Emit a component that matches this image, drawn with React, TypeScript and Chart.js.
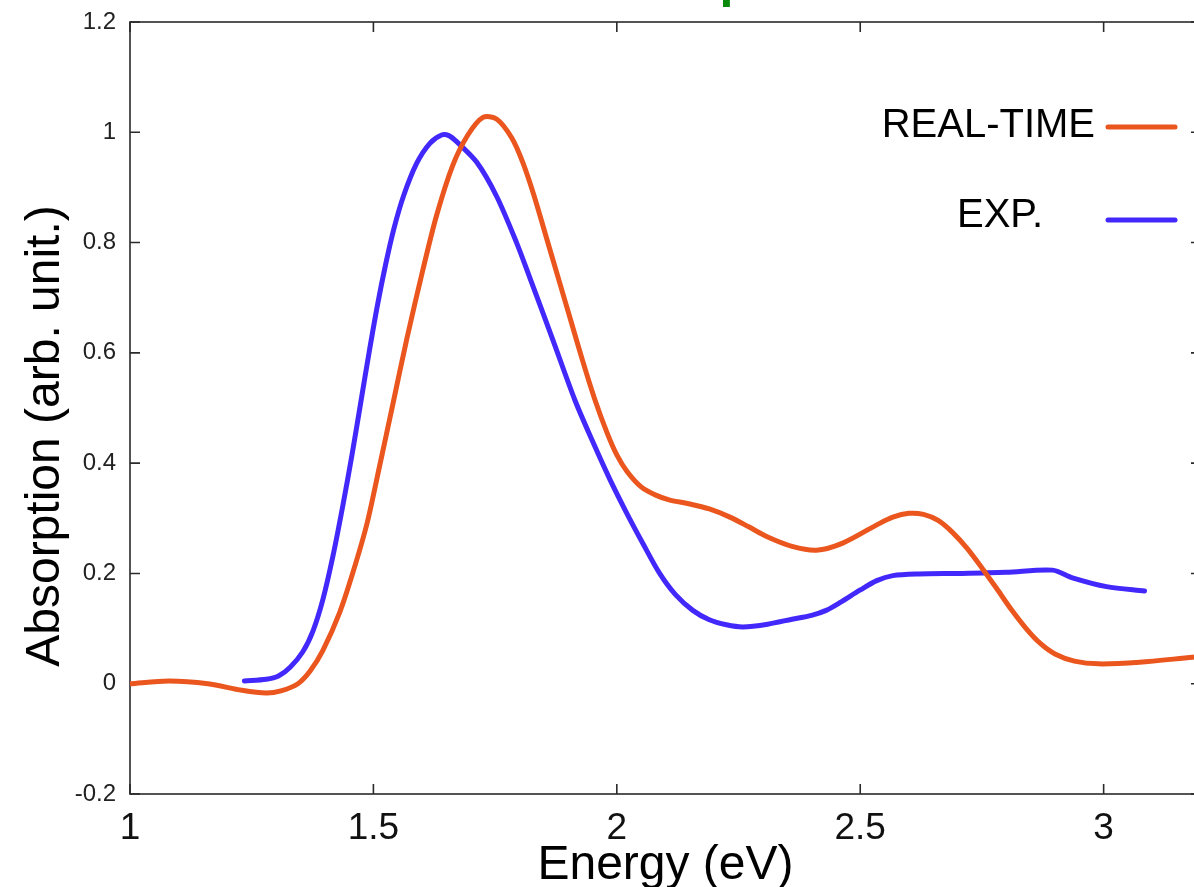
import React, { useEffect, useRef } from "react";
import { Chart, registerables } from "chart.js";

Chart.register(...registerables);

// ---- data ----
const realTimeEnergy = [1.0, 1.08, 1.16, 1.23, 1.28, 1.31, 1.345, 1.37, 1.396, 1.431, 1.458, 1.487, 1.513, 1.54, 1.569, 1.602, 1.63, 1.663, 1.694, 1.725, 1.753, 1.784, 1.807, 1.83, 1.855, 1.88, 1.905, 1.93, 1.955, 1.98, 2.0, 2.021, 2.05, 2.08, 2.109, 2.15, 2.19, 2.23, 2.27, 2.31, 2.36, 2.41, 2.464, 2.534, 2.567, 2.6, 2.63, 2.66, 2.69, 2.72, 2.75, 2.78, 2.81, 2.84, 2.87, 2.9, 2.94, 2.99, 3.074, 3.183, 3.2];
const realTimeAbs = [0.0, 0.005, 0.0, -0.012, -0.017, -0.013, 0.0, 0.023, 0.06, 0.13, 0.202, 0.291, 0.396, 0.507, 0.627, 0.752, 0.85, 0.94, 0.995, 1.027, 1.024, 0.99, 0.945, 0.885, 0.81, 0.735, 0.66, 0.585, 0.515, 0.455, 0.415, 0.385, 0.357, 0.342, 0.333, 0.326, 0.317, 0.303, 0.285, 0.266, 0.249, 0.242, 0.255, 0.288, 0.302, 0.309, 0.307, 0.296, 0.274, 0.245, 0.21, 0.173, 0.135, 0.101, 0.073, 0.054, 0.041, 0.036, 0.039, 0.048, 0.049];

const expEnergy = [1.235, 1.28, 1.305, 1.329, 1.355, 1.376, 1.396, 1.417, 1.437, 1.456, 1.474, 1.491, 1.508, 1.525, 1.542, 1.562, 1.589, 1.616, 1.64, 1.655, 1.671, 1.712, 1.753, 1.794, 1.821, 1.868, 1.914, 1.95, 1.985, 2.02, 2.055, 2.088, 2.12, 2.156, 2.19, 2.225, 2.259, 2.31, 2.36, 2.4, 2.43, 2.46, 2.5, 2.534, 2.567, 2.62, 2.704, 2.8, 2.895, 2.936, 3.006, 3.084];
const expAbs = [0.005, 0.008, 0.014, 0.03, 0.058, 0.096, 0.152, 0.232, 0.322, 0.415, 0.51, 0.6, 0.685, 0.76, 0.825, 0.885, 0.944, 0.98, 0.995, 0.994, 0.983, 0.946, 0.884, 0.8, 0.737, 0.625, 0.514, 0.44, 0.372, 0.31, 0.252, 0.2, 0.162, 0.133, 0.116, 0.107, 0.103, 0.108, 0.117, 0.124, 0.133, 0.148, 0.17, 0.187, 0.196, 0.199, 0.2, 0.202, 0.206, 0.192, 0.176, 0.168];

const seriesLabels = ["REAL-TIME", "EXP."];
const seriesColors = ["#EA561E", "#4228FA"];

const xTicks = [1, 1.5, 2, 2.5, 3];
const xTickLabels = ["1", "1.5", "2", "2.5", "3"];
const yTicks = [-0.2, 0, 0.2, 0.4, 0.6, 0.8, 1, 1.2];
const yTickLabels = ["-0.2", "0", "0.2", "0.4", "0.6", "0.8", "1", "1.2"];
const xRange = [1, 3.2];
const yRange = [-0.2, 1.2];

const xTitle = "Energy (eV)";
const yTitle = "Absorption (arb. unit.)";
const topTitleFragment = "p";

// ---- layout ----
const W = 1215;
const H = 900;
const FONT = "'Liberation Sans', Arial, Helvetica, sans-serif";
const AREA = { left: 130, right: 1201, top: 22, bottom: 794 };

function labelFor(values: number[], labels: string[], v: number) {
  const i = values.findIndex((t) => Math.abs(t - v) < 1e-9);
  return i >= 0 ? labels[i] : "";
}

const framePlugin = {
  id: "gnuFrame",
  beforeDatasetsDraw(chart: any) {
    const { ctx, chartArea } = chart;
    const { left, right, top, bottom } = chartArea;
    const xs = chart.scales.x;
    const ys = chart.scales.y;
    ctx.save();
    ctx.strokeStyle = "#2a2a2a";
    ctx.lineWidth = 1.6;
    ctx.strokeRect(left, top, right - left, bottom - top);
    ctx.beginPath();
    const tl = 10;
    xTicks.forEach((v) => {
      const px = xs.getPixelForValue(v);
      ctx.moveTo(px, bottom);
      ctx.lineTo(px, bottom - tl);
      ctx.moveTo(px, top);
      ctx.lineTo(px, top + tl);
    });
    yTicks.forEach((v) => {
      const py = ys.getPixelForValue(v);
      ctx.moveTo(left, py);
      ctx.lineTo(left + tl, py);
      ctx.moveTo(right, py);
      ctx.lineTo(right - tl, py);
    });
    ctx.stroke();
    ctx.restore();
  },
  afterDraw(chart: any) {
    const { ctx } = chart;
    ctx.save();
    // y-axis title
    ctx.translate(59, 436);
    ctx.rotate(-Math.PI / 2);
    ctx.fillStyle = "#000";
    ctx.font = `48px ${FONT}`;
    ctx.textAlign = "center";
    ctx.textBaseline = "alphabetic";
    ctx.fillText(yTitle, 0, 0);
    ctx.restore();

    // legend (text right-aligned, sample line to its right)
    const textRight = [1095, 1043];
    const baselines = [137, 227];
    const lineY = [127, 220];
    ctx.save();
    ctx.font = `40px ${FONT}`;
    ctx.textAlign = "right";
    ctx.textBaseline = "alphabetic";
    chart.data.datasets.forEach((ds: any, i: number) => {
      ctx.fillStyle = "#000";
      ctx.fillText(ds.label, textRight[i], baselines[i]);
      ctx.strokeStyle = ds.borderColor;
      ctx.lineWidth = 5;
      ctx.lineCap = "round";
      ctx.beginPath();
      ctx.moveTo(1108, lineY[i]);
      ctx.lineTo(1175, lineY[i]);
      ctx.stroke();
    });
    ctx.restore();

    // cut-off title fragment at very top
    ctx.save();
    ctx.fillStyle = "#0a8a0a";
    ctx.font = `bold 50px ${FONT}`;
    ctx.textAlign = "left";
    ctx.textBaseline = "alphabetic";
    ctx.fillText(topTitleFragment, 719.5, -3.5);
    ctx.restore();
  },
};

export default function App() {
  const canvasRef = useRef<HTMLCanvasElement | null>(null);

  useEffect(() => {
    document.body.style.margin = "0";
    const canvas = canvasRef.current;
    if (!canvas) return;
    const chart = new Chart(canvas, {
      type: "line",
      data: {
        datasets: [
          {
            label: seriesLabels[0],
            data: realTimeEnergy.map((x, i) => ({ x, y: realTimeAbs[i] })),
            borderColor: seriesColors[0],
            backgroundColor: seriesColors[0],
            borderWidth: 5,
            pointRadius: 0,
            pointHoverRadius: 0,
            tension: 0.3,
            fill: false,
          },
          {
            label: seriesLabels[1],
            data: expEnergy.map((x, i) => ({ x, y: expAbs[i] })),
            borderColor: seriesColors[1],
            backgroundColor: seriesColors[1],
            borderWidth: 5,
            pointRadius: 0,
            pointHoverRadius: 0,
            tension: 0.3,
            fill: false,
            borderCapStyle: "round",
          },
        ],
      },
      options: {
        responsive: false,
        animation: false,
        devicePixelRatio: 1,
        layout: { padding: { left: 0, top: AREA.top, right: W - AREA.right, bottom: 0 } },
        plugins: { legend: { display: false }, tooltip: { enabled: false } },
        scales: {
          x: {
            type: "linear",
            min: xRange[0],
            max: xRange[1],
            afterBuildTicks: (s: any) => {
              s.ticks = xTicks.map((value) => ({ value }));
            },
            afterFit: (s: any) => {
              s.height = H - AREA.bottom;
              s.paddingLeft = 0;
              s.paddingRight = 0;
              s.paddingTop = 0;
              s.paddingBottom = 0;
            },
            ticks: {
              callback: (v: any) => labelFor(xTicks, xTickLabels, Number(v)),
              font: { family: FONT, size: 37 },
              color: "#111",
              padding: 13,
              maxRotation: 0,
              autoSkip: false,
            },
            grid: { display: false, drawTicks: false },
            border: { display: false },
            title: {
              display: true,
              text: xTitle,
              font: { family: FONT, size: 48 },
              color: "#000",
              padding: { top: 0, bottom: 5 },
            },
          },
          y: {
            type: "linear",
            min: yRange[0],
            max: yRange[1],
            afterBuildTicks: (s: any) => {
              s.ticks = yTicks.map((value) => ({ value }));
            },
            afterFit: (s: any) => {
              s.width = AREA.left;
              s.paddingTop = 0;
              s.paddingBottom = 0;
              s.paddingLeft = 0;
              s.paddingRight = 0;
            },
            ticks: {
              callback: (v: any) => labelFor(yTicks, yTickLabels, Number(v)),
              font: { family: FONT, size: 24 },
              color: "#222",
              padding: 14,
              autoSkip: false,
            },
            grid: { display: false, drawTicks: false },
            border: { display: false },
            title: { display: false },
          },
        },
      },
      plugins: [framePlugin],
    } as any);
    return () => chart.destroy();
  }, []);

  return (
    <div
      style={{
        position: "fixed",
        left: 0,
        top: 0,
        width: 1194,
        height: 887,
        overflow: "hidden",
        background: "#fff",
      }}
    >
      <canvas
        ref={canvasRef}
        width={W}
        height={H}
        style={{ width: W, height: H, display: "block" }}
      />
    </div>
  );
}
